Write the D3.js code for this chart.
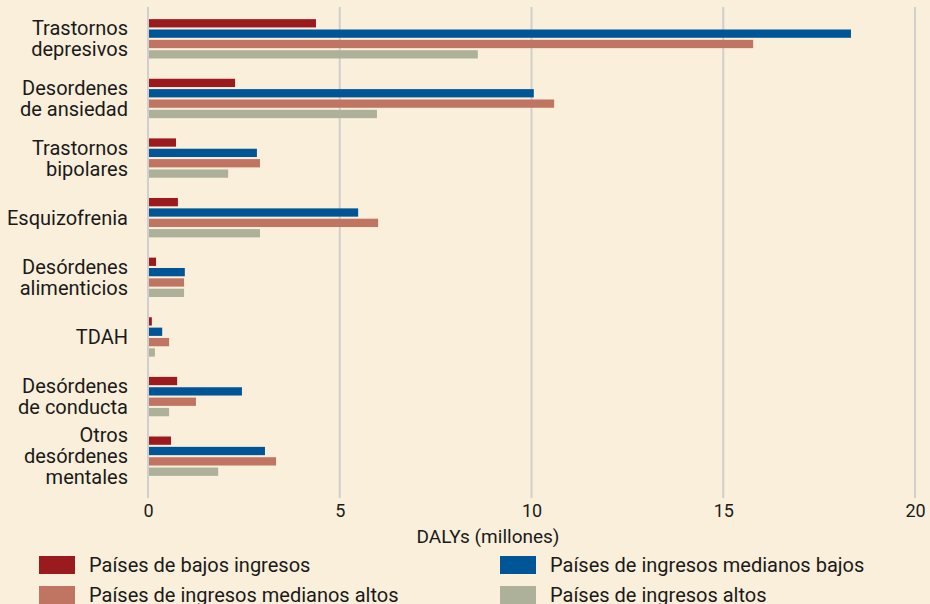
<!DOCTYPE html>
<html>
<head>
<meta charset="utf-8">
<script src="https://cdn.jsdelivr.net/npm/d3@7"></script>
<style>
  html, body { margin: 0; padding: 0; background: #f9efda; }
  svg { display: block; font-family: Roboto, "Noto Sans", sans-serif; }
</style>
</head>
<body>
<div id="chart"></div>
<script>
const categories = [
  ['Trastornos', 'depresivos'],
  ['Desordenes', 'de ansiedad'],
  ['Trastornos', 'bipolares'],
  ['Esquizofrenia'],
  ['Desórdenes', 'alimenticios'],
  ['TDAH'],
  ['Desórdenes', 'de conducta'],
  ['Otros', 'desórdenes', 'mentales']
];
const seriesNames = [
  'Países de bajos ingresos',
  'Países de ingresos medianos bajos',
  'Países de ingresos medianos altos',
  'Países de ingresos altos'
];
const colors = ['#9b1a1e', '#005596', '#bf7562', '#adb19a'];

const lowIncome       = [4.38, 2.27, 0.73, 0.78, 0.21, 0.10, 0.76, 0.60];
const lowerMiddle     = [18.33, 10.06, 2.84, 5.48, 0.96, 0.37, 2.45, 3.05];
const upperMiddle     = [15.78, 10.59, 2.92, 6.00, 0.94, 0.55, 1.25, 3.34];
const highIncome      = [8.60, 5.97, 2.09, 2.92, 0.94, 0.18, 0.55, 1.83];
const xTicks = [0, 5, 10, 15, 20];

const series = [lowIncome, lowerMiddle, upperMiddle, highIncome];

const width = 930, height = 604;

const svg = d3.select('#chart')
  .append('svg')
    .attr('width', width)
    .attr('height', height);

const x = d3.scaleLinear()
  .domain([0, 20])
  .range([148, 915]);

const y = d3.scaleBand()
  .domain(d3.range(categories.length))
  .range([9, 486])
  .paddingInner(0.34)
  .paddingOuter(0.17);

const ySub = d3.scaleBand()
  .domain(d3.range(series.length))
  .range([0, y.bandwidth()])
  .paddingInner(0.2);

// grid lines
svg.append('g')
  .selectAll('line')
  .data(xTicks)
  .join('line')
    .attr('x1', d => x(d))
    .attr('x2', d => x(d))
    .attr('y1', 7)
    .attr('y2', 498)
    .attr('stroke', '#cfcfcf')
    .attr('stroke-width', 2);

// bars
const groups = svg.append('g')
  .selectAll('g')
  .data(categories)
  .join('g')
    .attr('transform', (d, i) => `translate(0,${y(i)})`);

groups.selectAll('rect')
  .data((d, i) => series.map((s, k) => ({ k, v: s[i] })))
  .join('rect')
    .attr('x', x(0) + 1)
    .attr('y', d => ySub(d.k))
    .attr('width', d => x(d.v) - x(0) - 1)
    .attr('height', ySub.bandwidth())
    .attr('fill', d => colors[d.k]);

// category labels
groups.append('text')
  .attr('text-anchor', 'end')
  .attr('font-size', 20)
  .attr('fill', '#1a1a1a')
  .each(function (d) {
    const t = d3.select(this);
    const lh = 21;
    const start = y.bandwidth() / 2 - (d.length - 1) * lh / 2;
    d.forEach((line, j) => {
      t.append('tspan')
        .attr('x', 128)
        .attr('y', start + j * lh)
        .attr('dy', '0.35em')
        .text(line);
    });
  });

// x axis
const axis = svg.append('g')
  .attr('transform', 'translate(0,498)')
  .call(d3.axisBottom(x).tickValues(xTicks).tickSize(0).tickPadding(6));
axis.select('.domain').remove();
axis.selectAll('text')
  .attr('font-size', 18)
  .attr('font-family', 'Roboto, sans-serif')
  .attr('fill', '#1a1a1a');

svg.append('text')
  .attr('x', 488)
  .attr('y', 536)
  .attr('dy', '0.35em')
  .attr('text-anchor', 'middle')
  .attr('font-size', 19)
  .attr('fill', '#1a1a1a')
  .text('DALYs (millones)');

// legend
const legendPos = [[39, 565], [500, 565], [39, 595], [500, 595]];
const legend = svg.append('g')
  .selectAll('g')
  .data(seriesNames)
  .join('g')
    .attr('transform', (d, i) => `translate(${legendPos[i][0]},${legendPos[i][1]})`);

legend.append('rect')
  .attr('x', 0)
  .attr('y', -9)
  .attr('width', 36)
  .attr('height', 18)
  .attr('fill', (d, i) => colors[i]);

legend.append('text')
  .attr('x', 50)
  .attr('dy', '0.35em')
  .attr('font-size', 20)
  .attr('fill', '#1a1a1a')
  .text(d => d);
</script>
</body>
</html>
